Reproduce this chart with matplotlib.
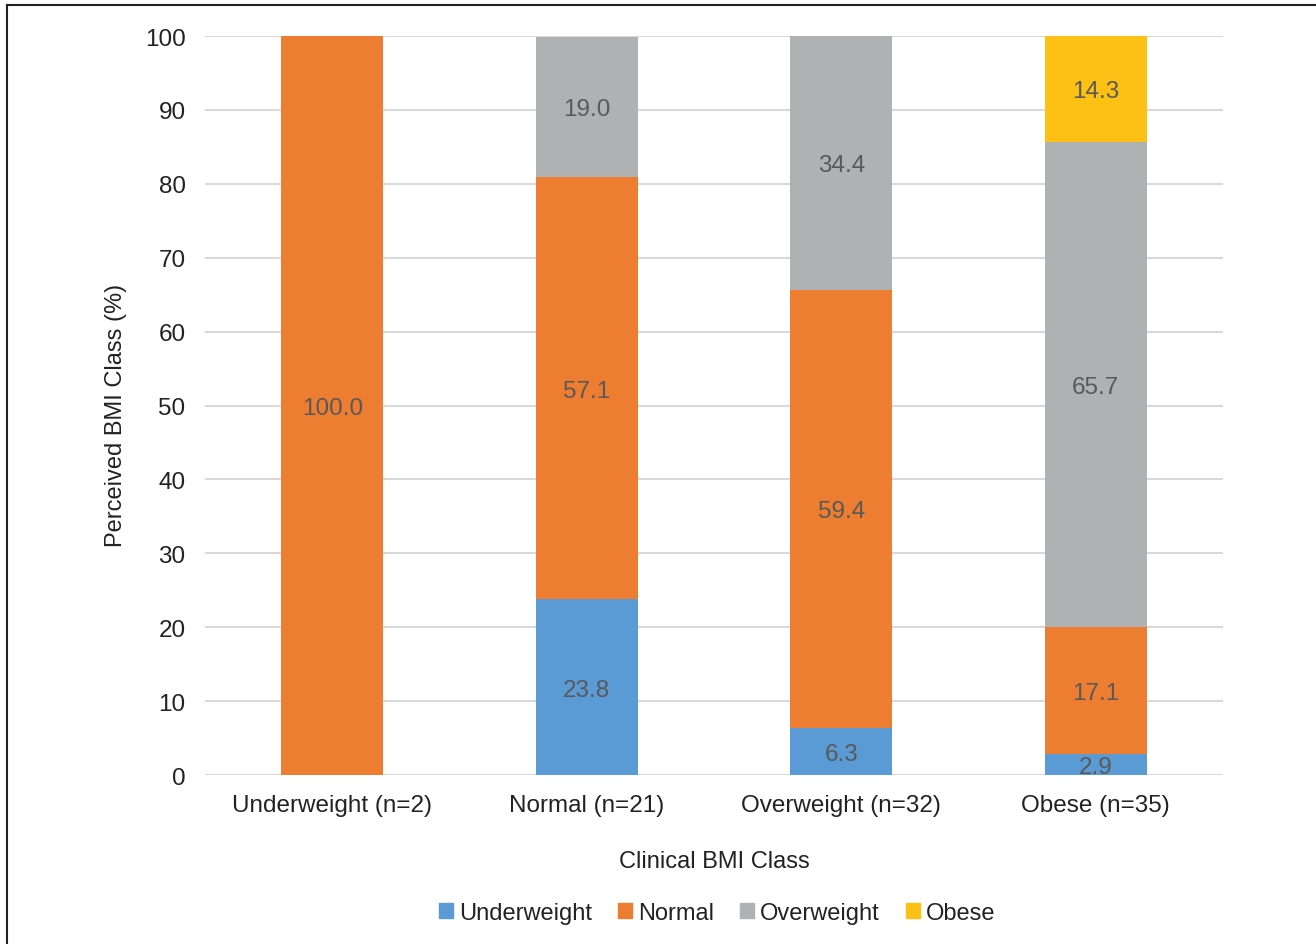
import numpy as np
import matplotlib
matplotlib.use("Agg")
from matplotlib import pyplot as plt
from matplotlib.lines import Line2D

plt.rcParams['font.family'] = ['Liberation Sans', 'DejaVu Sans']

categories = ['Underweight (n=2)', 'Normal (n=21)', 'Overweight (n=32)', 'Obese (n=35)']
series_names = ['Underweight', 'Normal', 'Overweight', 'Obese']
underweight = [0.0, 23.8, 6.3, 2.9]
normal = [100.0, 57.1, 59.4, 17.1]
overweight = [0.0, 19.0, 34.4, 65.7]
obese = [0.0, 0.0, 0.0, 14.3]
colors = ['#5B9BD5', '#ED7D31', '#B0B1B3', '#FCC114']

fig = plt.figure(figsize=(13.16, 9.45), dpi=100)
ax = fig.add_axes([0.1558, 0.1788, 0.7735, 0.782])

x = np.arange(len(categories))
bottom = np.zeros(len(categories))
for name, vals, c in zip(series_names, [underweight, normal, overweight, obese], colors):
    vals = np.array(vals)
    ax.bar(x, vals, 0.4, bottom=bottom, color=c, label=name, zorder=3)
    for xi, b, v in zip(x, bottom, vals):
        if v > 0:
            ax.text(xi, b + v / 2, '%.1f' % v, ha='center', va='center_baseline',
                    fontsize=17.5, color='#595959', zorder=4)
    bottom += vals

ax.set_xlim(-0.5, 3.5)
ax.set_ylim(0, 100)
ax.set_yticks(range(0, 101, 10))
ax.yaxis.grid(True, color='#d9d9d9', linewidth=1.5, zorder=0)
ax.set_axisbelow(True)
for s in ax.spines.values():
    s.set_visible(False)
ax.tick_params(length=0, labelsize=17.5, colors='#222222')
ax.tick_params(axis='y', pad=14)
ax.tick_params(axis='x', pad=14)
ax.set_xticks(x)
ax.set_xticklabels(categories)
ax.set_ylabel('Perceived BMI Class (%)', fontsize=17, color='#222222')
ax.yaxis.set_label_coords(-0.077, 0.488)
ax.set_xlabel('Clinical BMI Class', fontsize=17, color='#222222', labelpad=24)

handles = [plt.Rectangle((0, 0), 1, 1, color=c) for c in colors]
fig.legend(handles, series_names, loc='center', bbox_to_anchor=(0.545, 0.033),
           ncol=4, frameon=False, fontsize=17, handlelength=0.6, handleheight=0.6,
           handletextpad=0.25, columnspacing=1.1, labelcolor='#222222')

# frame lines on left and top edge
fig.add_artist(Line2D([0.0053, 0.0053], [0, 0.9937], color='#222222', lw=1.5))
fig.add_artist(Line2D([0.0053, 1], [0.9937, 0.9937], color='#222222', lw=1.5))

fig.savefig('out.png', dpi=100)
